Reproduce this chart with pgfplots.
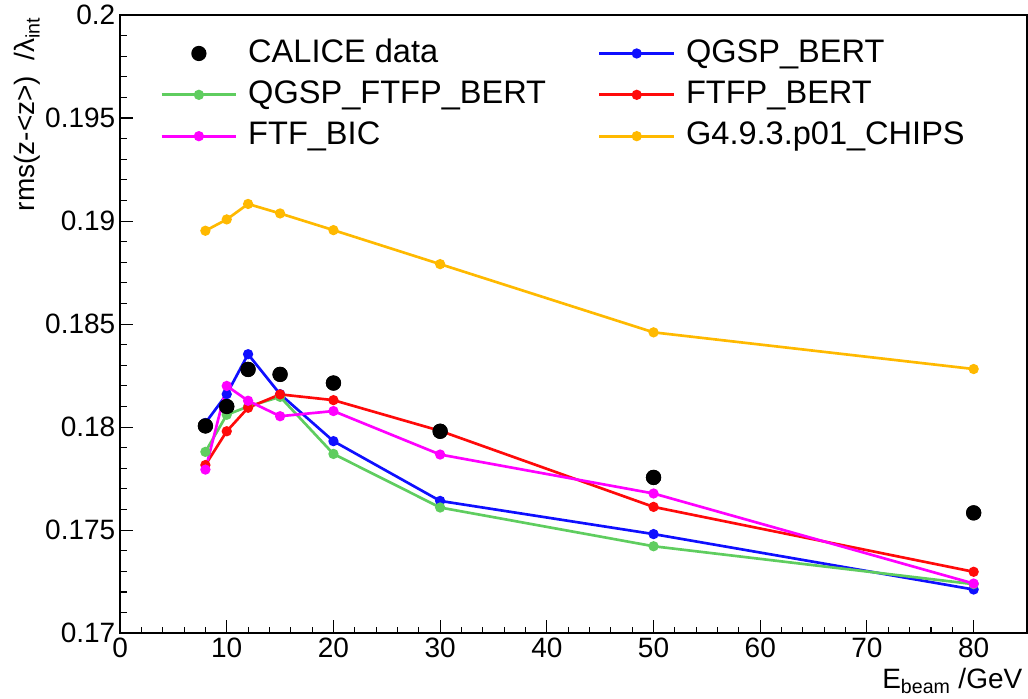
\documentclass[border=0pt]{standalone}
\usepackage{fontspec}
\setmainfont{Liberation Sans}
\usepackage{pgfplots}
\pgfplotsset{compat=1.18}
\definecolor{rgreen}{RGB}{95,205,95}
\definecolor{rorange}{RGB}{255,185,0}
\definecolor{rmagenta}{RGB}{255,0,255}
\definecolor{rblue}{RGB}{15,15,255}
\definecolor{rred}{RGB}{255,10,10}
\newcommand{\tickfont}{\fontsize{21}{24}\selectfont}
\newcommand{\legfont}{\fontsize{24.4}{28}\selectfont}
\begin{document}
\begin{tikzpicture}
\begin{axis}[%
scale only axis,
width=680pt, height=463.5pt,
xmin=0, xmax=85, ymin=0.17, ymax=0.2,
xtick={0,10,...,80}, minor x tick num=4,
ytick={0.17,0.175,...,0.2001}, minor y tick num=4,
tick pos=left, tick align=inside,
major tick length=10pt, minor tick length=5pt,
axis line style={line width=1.1pt},
every tick/.style={black, line width=0.8pt},
yticklabel style={/pgf/number format/fixed, /pgf/number format/precision=3},
/pgf/number format/assume math mode=true,
tick label style={font=\tickfont},
xlabel={E\textsubscript{beam} /GeV},
ylabel={rms(z-<z>)\ \ /λ\textsubscript{int}},
label style={font=\tickfont},
xlabel style={at={(rel axis cs:1,0)}, anchor=north east, yshift=-23pt},
ylabel style={at={(rel axis cs:0,1)}, anchor=south east, yshift=56pt, xshift=2pt},
legend columns=2,
legend cell align=left,
legend style={draw=none, fill=none, font=\legfont, inner sep=0pt,
  at={(rel axis cs:0.044,0.963)}, anchor=north west,
  nodes={inner sep=0pt, text height=18pt, text depth=5pt},
  /tikz/every odd column/.append style={column sep=8pt},
  /tikz/every even column/.append style={column sep=39pt}, row sep=8pt},
legend image code/.code={\draw[mark repeat=2,mark phase=2] plot coordinates {(0pt,0pt) (28pt,0pt) (56pt,0pt)};},
every axis plot/.append style={line width=2pt, mark=*, mark size=2.8pt},
]
\addplot[only marks, black, mark=*, mark size=4.7pt,
  legend image code/.code={\draw plot[mark=*, mark size=4.7pt] coordinates {(28pt,0pt)};}]
  coordinates {(8,0.18006) (10,0.1810) (12,0.1828) (15,0.18256) (20,0.18214) (30,0.1798) (50,0.17756) (80,0.17584)};
\addlegendentry{CALICE data}
\addplot[rblue] coordinates {(8,0.1802) (10,0.1816) (12,0.18354) (15,0.18160) (20,0.17932) (30,0.17642) (50,0.17481) (80,0.17212)};
\addlegendentry{QGSP\_BERT}
\addplot[rgreen] coordinates {(8,0.1788) (10,0.1806) (12,0.1810) (15,0.18147) (20,0.1787) (30,0.1761) (50,0.17422) (80,0.17238)};
\addlegendentry{QGSP\_FTFP\_BERT}
\addplot[rred] coordinates {(8,0.17816) (10,0.1798) (12,0.18094) (15,0.18159) (20,0.18131) (30,0.17982) (50,0.17613) (80,0.17298)};
\addlegendentry{FTFP\_BERT}
\addplot[rmagenta] coordinates {(8,0.17794) (10,0.1820) (12,0.18128) (15,0.18053) (20,0.18078) (30,0.17867) (50,0.17678) (80,0.17241)};
\addlegendentry{FTF\_BIC}
\addplot[rorange] coordinates {(8,0.18953) (10,0.19008) (12,0.19083) (15,0.19037) (20,0.18956) (30,0.18791) (50,0.1846) (80,0.18282)};
\addlegendentry{G4.9.3.p01\_CHIPS}
% data on top of the curves
\addplot[only marks, black, mark=*, mark size=4.7pt, forget plot]
  coordinates {(8,0.18006) (10,0.1810) (12,0.1828) (15,0.18256) (20,0.18214) (30,0.1798) (50,0.17756) (80,0.17584)};
\end{axis}
% page margins as in the reference
\path (current axis.south west) ++(-90pt,-48.75pt) rectangle ([shift={(0.75pt,11.25pt)}]current axis.north east);
\end{tikzpicture}
\end{document}
